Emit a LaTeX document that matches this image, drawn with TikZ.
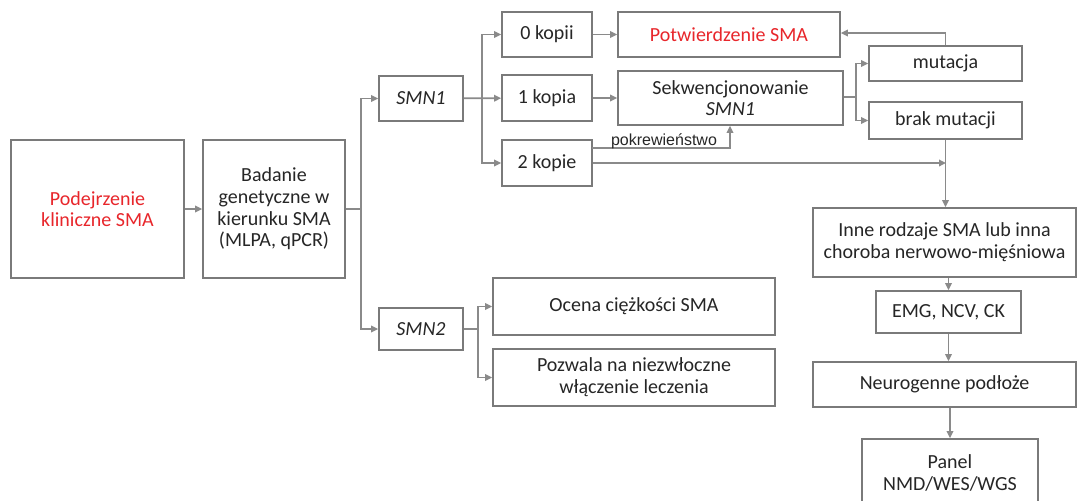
\documentclass[tikz,border=0pt]{standalone}
\usepackage{fontspec}
\setmainfont{Carlito}
\newfontfamily\arialf{Liberation Sans}
\usetikzlibrary{arrows.meta}
\definecolor{boxgray}{HTML}{7A7A7A}
\definecolor{linegray}{HTML}{8A8A8A}
\definecolor{txt}{HTML}{262626}
\definecolor{redt}{HTML}{E8262B}
\tikzset{
  box/.style={draw=boxgray, line width=1.7pt, align=center, inner sep=0pt, text=txt,
    font=\fontsize{20}{21.7}\selectfont},
  arr/.style={draw=linegray, line width=1.7pt, -{Triangle[length=7pt,width=6.5pt]}},
  ln/.style={draw=linegray, line width=1.7pt},
}
\begin{document}
\begin{tikzpicture}[x=1pt,y=-1pt]
\useasboundingbox (0,0) rectangle (1080,501);
\clip (0,0) rectangle (1080,501);
\fill[white] (0,0) rectangle (1080,501);
% nodes
\node[box, minimum width=173pt, minimum height=138pt, text=redt] (pod) at (97.5,209) {Podejrzenie\\kliniczne SMA};
\node[box, minimum width=142pt, minimum height=138pt] (bad) at (274,209) {Badanie\\genetyczne w\\kierunku SMA\\(MLPA, qPCR)};
\node[box, minimum width=84pt, minimum height=45pt] (smn1) at (421,98.5) {\itshape SMN1};
\node[box, minimum width=84pt, minimum height=42pt] (smn2) at (421,329) {\itshape SMN2};
\node[box, minimum width=90pt, minimum height=45pt] (k0) at (547,34.5) {0 kopii};
\node[box, minimum width=90pt, minimum height=46pt] (k1) at (547,98) {1 kopia};
\node[box, minimum width=90pt, minimum height=46pt] (k2) at (547,163) {2 kopie};
\node[box, minimum width=222pt, minimum height=45pt, text=redt] (pot) at (729,34.5) {Potwierdzenie SMA};
\node[box, minimum width=225pt, minimum height=54pt] (sek) at (730.5,98) {Sekwencjonowanie\\\itshape SMN1};
\node[box, minimum width=153pt, minimum height=35pt] (mut) at (945.5,63.5) {mutacja};
\node[box, minimum width=153pt, minimum height=37pt] (brak) at (945.5,120.5) {brak mutacji};
\node[box, minimum width=263pt, minimum height=69pt] (inne) at (944.5,242.5) {Inne rodzaje SMA lub inna\\choroba nerwowo-mięśniowa};
\node[box, minimum width=145pt, minimum height=42pt] (emg) at (948.5,312) {EMG, NCV, CK};
\node[box, minimum width=263pt, minimum height=45pt] (neu) at (944.5,384.5) {Neurogenne podłoże};
\node[box, minimum width=176pt, minimum height=68pt] (panel) at (950,473) {Panel\\NMD/WES/WGS};
\node[box, minimum width=282pt, minimum height=57pt] (oce) at (634,306.5) {Ocena ciężkości SMA};
\node[box, minimum width=282pt, minimum height=57pt] (poz) at (634,377.5) {Pozwala na niezwłoczne\\włączenie leczenia};
% connectors
\draw[arr] (pod) -- (bad);
\coordinate (j1) at (361,209);
\draw[ln] (bad.east) -- (j1);
\draw[arr] (j1) |- (smn1);
\draw[arr] (j1) |- (smn2);
\coordinate (j2) at (482,98);
\draw[arr] (smn1) -- (k1);
\draw[arr] (j2) |- (k0);
\draw[arr] (j2) |- (k2);
\draw[arr] (k0) -- (pot);
\draw[arr] (k1) -- (sek);
\coordinate (j3) at (856,97);
\draw[ln] (sek.east |- j3) -- (j3);
\draw[arr] (j3) |- (mut);
\draw[arr] (j3) |- (brak);
\coordinate (m1) at (945.5,33);
\draw[arr] (mut.north) -- (m1) -- (pot.east |- m1);
\coordinate (p1) at (592,148);
\coordinate (p2) at (730,148);
\draw[arr] (p1) -- (p2) -- (p2 |- sek.south);
\node[text=txt, font=\arialf\fontsize{16}{18}\selectfont, anchor=base, inner sep=0pt] (pk) at (664,145) {pokrewieństwo};
\coordinate (j4) at (946,163);
\draw[arr] (k2.east |- j4) -- (j4);
\draw[arr] (brak.south) -- (brak.south |- inne.north);
\draw[arr] (emg.north |- inne.south) -- (emg.north);
\draw[arr] (emg.south) -- (emg.south |- neu.north);
\draw[arr] (panel.north |- neu.south) -- (panel.north);
\coordinate (j5) at (478,329);
\draw[ln] (smn2.east) -- (j5);
\draw[arr] (j5) |- (oce);
\draw[arr] (j5) |- (poz);
\end{tikzpicture}
\end{document}
